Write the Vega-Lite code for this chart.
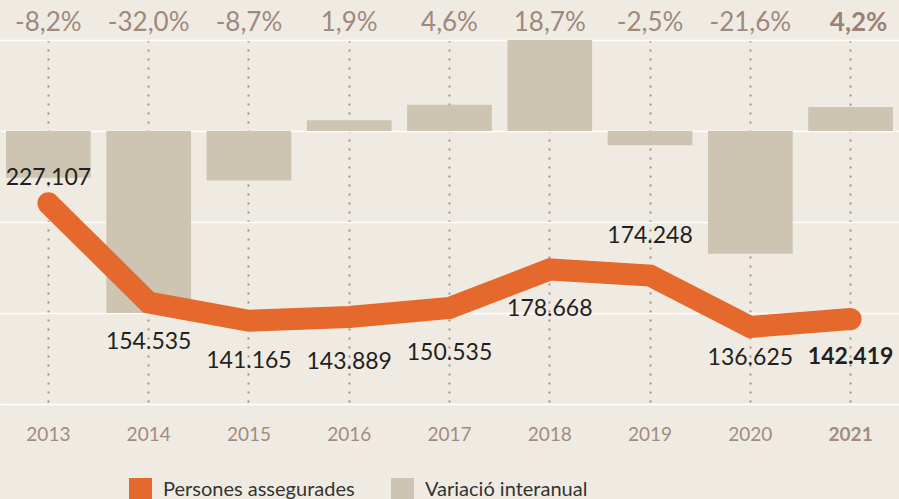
{
  "$schema": "https://vega.github.io/schema/vega-lite/v6.json",
  "width": 899,
  "height": 364,
  "autosize": {"type": "none"},
  "padding": {"left": 0, "right": 0, "top": 40, "bottom": 95},
  "background": "#f0ebe2",
  "config": {
    "view": {"stroke": null},
    "font": "Lato",
    "text": {"font": "Lato"}
  },
  "data": {
    "values": [
      {"year": "2013", "value": 227107, "var": -8.2, "pct": "-8,2%", "lab": "227.107"},
      {"year": "2014", "value": 154535, "var": -32.0, "pct": "-32,0%", "lab": "154.535"},
      {"year": "2015", "value": 141165, "var": -8.7, "pct": "-8,7%", "lab": "141.165"},
      {"year": "2016", "value": 143889, "var": 1.9, "pct": "1,9%", "lab": "143.889"},
      {"year": "2017", "value": 150535, "var": 4.6, "pct": "4,6%", "lab": "150.535"},
      {"year": "2018", "value": 178668, "var": 18.7, "pct": "18,7%", "lab": "178.668"},
      {"year": "2019", "value": 174248, "var": -2.5, "pct": "-2,5%", "lab": "174.248"},
      {"year": "2020", "value": 136625, "var": -21.6, "pct": "-21,6%", "lab": "136.625"},
      {"year": "2021", "value": 142419, "var": 4.2, "pct": "4,2%", "lab": "142.419"}
    ]
  },
  "resolve": {"scale": {"y": "independent"}},
  "layer": [
    {
      "mark": {"type": "bar", "clip": true, "color": "#cec4b2"},
      "encoding": {
        "x": {
          "field": "year", "type": "ordinal",
          "scale": {"paddingInner": 0.155, "paddingOuter": 0.06},
          "axis": {
            "title": null, "domain": false, "ticks": false, "tickSize": 0,
            "labelAngle": 0, "labelFont": "Lato", "labelFontSize": 19,
            "labelColor": "#a08c82", "labelPadding": 21,
            "labelFontWeight": {"condition": {"test": "datum.value === '2021'", "value": "bold"}, "value": "normal"},
            "grid": true, "bandPosition": 0.5, "gridColor": "#a39289",
            "gridDash": [2, 7], "gridWidth": 2
          }
        },
        "y": {
          "field": "var", "type": "quantitative",
          "scale": {"domain": [-48, 16], "nice": false},
          "axis": {
            "values": [-48, -32, -16, 0, 16], "grid": true, "gridColor": "#ffffff",
            "gridWidth": 1.5, "labels": false, "ticks": false, "domain": false, "title": null
          }
        },
        "color": {
          "datum": "Variació interanual",
          "scale": {"domain": ["Persones assegurades", "Variació interanual"], "range": ["#e5682c", "#cec4b2"]},
          "legend": {
            "title": null, "orient": "none", "legendX": 129, "legendY": 438,
            "direction": "horizontal", "symbolType": "square", "symbolSize": 529,
            "symbolStrokeWidth": 0, "labelFont": "Lato", "labelFontSize": 20,
            "labelColor": "#333333", "labelOffset": 11, "columnPadding": 36,
            "padding": 0, "labelLimit": 400
          }
        }
      }
    },
    {
      "mark": {"type": "line", "strokeWidth": 22, "strokeCap": "round", "strokeJoin": "miter"},
      "encoding": {
        "x": {"field": "year", "type": "ordinal"},
        "y": {"field": "value", "type": "quantitative", "scale": {"domain": [80216, 346630], "nice": false, "zero": false}, "axis": null},
        "color": {"datum": "Persones assegurades", "legend": null}
      }
    },
    {
      "transform": [{"filter": "datum.year === '2013'"}],
      "mark": {"type": "text", "fontSize": 23, "color": "#231f20", "baseline": "middle", "dy": -25},
      "encoding": {
        "x": {"field": "year", "type": "ordinal"},
        "y": {"field": "value", "type": "quantitative", "scale": {"domain": [80216, 346630], "nice": false, "zero": false}, "axis": null},
        "text": {"field": "lab"}
      }
    },
    {
      "transform": [{"filter": "datum.year === '2019'"}],
      "mark": {"type": "text", "fontSize": 23, "color": "#231f20", "baseline": "middle", "dy": -40},
      "encoding": {
        "x": {"field": "year", "type": "ordinal"},
        "y": {"field": "value", "type": "quantitative", "scale": {"domain": [80216, 346630], "nice": false, "zero": false}, "axis": null},
        "text": {"field": "lab"}
      }
    },
    {
      "transform": [{"filter": "datum.year === '2014' || datum.year === '2015' || datum.year === '2018'"}],
      "mark": {"type": "text", "fontSize": 23, "color": "#231f20", "baseline": "middle", "dy": 40},
      "encoding": {
        "x": {"field": "year", "type": "ordinal"},
        "y": {"field": "value", "type": "quantitative", "scale": {"domain": [80216, 346630], "nice": false, "zero": false}, "axis": null},
        "text": {"field": "lab"}
      }
    },
    {
      "transform": [{"filter": "datum.year === '2016' || datum.year === '2017'"}],
      "mark": {"type": "text", "fontSize": 23, "color": "#231f20", "baseline": "middle", "dy": 45},
      "encoding": {
        "x": {"field": "year", "type": "ordinal"},
        "y": {"field": "value", "type": "quantitative", "scale": {"domain": [80216, 346630], "nice": false, "zero": false}, "axis": null},
        "text": {"field": "lab"}
      }
    },
    {
      "transform": [{"filter": "datum.year === '2020'"}],
      "mark": {"type": "text", "fontSize": 23, "color": "#231f20", "baseline": "middle", "dy": 31},
      "encoding": {
        "x": {"field": "year", "type": "ordinal"},
        "y": {"field": "value", "type": "quantitative", "scale": {"domain": [80216, 346630], "nice": false, "zero": false}, "axis": null},
        "text": {"field": "lab"}
      }
    },
    {
      "transform": [{"filter": "datum.year === '2021'"}],
      "mark": {"type": "text", "fontSize": 23, "fontWeight": "bold", "color": "#231f20", "baseline": "middle", "dy": 38},
      "encoding": {
        "x": {"field": "year", "type": "ordinal"},
        "y": {"field": "value", "type": "quantitative", "scale": {"domain": [80216, 346630], "nice": false, "zero": false}, "axis": null},
        "text": {"field": "lab"}
      }
    },
    {
      "transform": [{"filter": "datum.year !== '2021'"}],
      "mark": {"type": "text", "fontSize": 26, "color": "#9e897e", "baseline": "alphabetic"},
      "encoding": {
        "x": {"field": "year", "type": "ordinal"},
        "y": {"datum": 17.6, "type": "quantitative", "scale": {"domain": [-48, 16], "nice": false}, "axis": null},
        "text": {"field": "pct"}
      }
    },
    {
      "transform": [{"filter": "datum.year === '2021'"}],
      "mark": {"type": "text", "fontSize": 26, "fontWeight": "bold", "color": "#9a8276", "baseline": "alphabetic", "dx": 8},
      "encoding": {
        "x": {"field": "year", "type": "ordinal"},
        "y": {"datum": 17.6, "type": "quantitative", "scale": {"domain": [-48, 16], "nice": false}, "axis": null},
        "text": {"field": "pct"}
      }
    }
  ]
}
